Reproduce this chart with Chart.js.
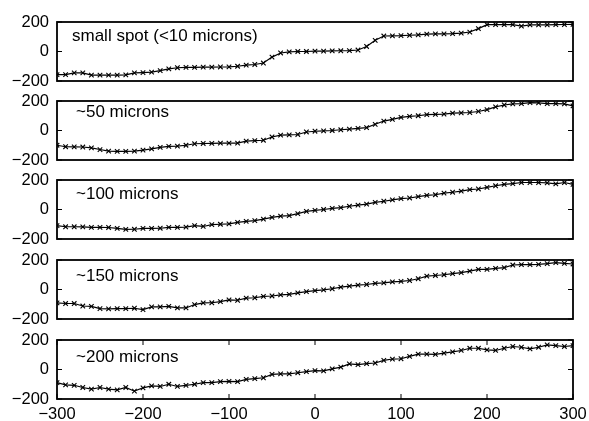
<!DOCTYPE html>
<html lang="en">
<head>
  <meta charset="UTF-8">
  <title>Spot size profiles</title>
  <script src="https://cdn.jsdelivr.net/npm/chart.js"></script>
  <style>
    body { margin: 0; background: #fff; }
    #wrap { position: relative; width: 589px; height: 421px; }
    #wrap canvas { position: absolute; left: 0; }
  </style>
</head>
<body>
<div id="wrap"></div>

<script>
  // posiciones x (comunes a los cinco paneles)
  const posX = [-300, -290, -280, -270, -260, -250, -240, -230, -220, -210,
                -200, -190, -180, -170, -160, -150, -140, -130, -120, -110,
                -100, -90, -80, -70, -60, -50, -40, -30, -20, -10,
                0, 10, 20, 30, 40, 50, 60, 70, 80, 90,
                100, 110, 120, 130, 140, 150, 160, 170, 180, 190,
                200, 210, 220, 230, 240, 250, 260, 270, 280, 290, 300];

  const panelLabels = ["small spot (<10 microns)", "~50 microns", "~100 microns", "~150 microns", "~200 microns"];

  const spotSmall = [-157, -157, -145, -145, -160, -160, -160, -160, -158, -145,
                     -143, -140, -130, -118, -110, -108, -107, -106, -106, -105,
                     -104, -100, -92, -88, -78, -38, -10, -3, 0, 0,
                     2, 3, 4, 5, 6, 10, 34, 76, 105, 106,
                     107, 110, 113, 118, 120, 120, 121, 124, 132, 155,
                     182, 182, 182, 182, 172, 180, 181, 181, 182, 183, 184];

  const spot50 = [-100, -110, -111, -112, -118, -129, -140, -141, -141, -140,
                  -133, -124, -115, -108, -106, -100, -90, -88, -87, -86,
                  -86, -85, -72, -68, -66, -44, -32, -29, -27, -10,
                  -5, -3, 0, 5, 9, 15, 20, 42, 64, 75,
                  89, 96, 100, 107, 109, 111, 118, 120, 122, 129,
                  142, 160, 173, 180, 182, 189, 187, 182, 182, 180, 167];

  const spot100 = [-109, -117, -117, -118, -121, -121, -122, -128, -135, -134,
                   -128, -128, -127, -121, -121, -120, -109, -115, -102, -100,
                   -98, -87, -80, -76, -65, -54, -45, -42, -28, -13,
                   -6, 0, 7, 13, 22, 30, 37, 48, 56, 65,
                   74, 78, 87, 96, 100, 111, 117, 124, 135, 139,
                   150, 161, 170, 176, 183, 183, 183, 180, 174, 183, 170];

  const spot150 = [-91, -95, -95, -112, -114, -130, -132, -130, -129, -127,
                   -136, -118, -118, -114, -125, -125, -102, -91, -90, -82,
                   -70, -73, -58, -56, -46, -44, -36, -33, -23, -15,
                   -8, -3, 5, 16, 23, 30, 34, 41, 45, 52,
                   55, 61, 73, 91, 95, 100, 107, 114, 125, 136,
                   136, 143, 148, 166, 168, 168, 170, 175, 182, 177, 173];

  const spot200 = [-89, -104, -107, -122, -133, -122, -133, -138, -122, -147,
                   -124, -111, -115, -100, -115, -107, -100, -89, -89, -82,
                   -80, -82, -67, -62, -56, -33, -29, -29, -22, -15,
                   -8, -9, 4, 16, 38, 33, 40, 44, 62, 71,
                   73, 89, 104, 104, 102, 111, 120, 129, 144, 144,
                   133, 129, 144, 156, 151, 140, 151, 167, 162, 156, 162];

  const yTicks = [-200, 0, 200];
  const xTicks = [-300, -200, -100, 0, 100, 200, 300];

  const series = [spotSmall, spot50, spot100, spot150, spot200];

  // geometría de los paneles
  const panelTops = [22, 101, 180, 260, 340];
  const panelH = 58.5;
  const labelDx = [15, 19, 19, 19, 19];
  const labelDy = [19, 16, 19, 21, 22];
  const FONT = "'Liberation Sans', Arial, Helvetica, sans-serif";

  function fmt(v) {
    return v < 0 ? "\u2212" + Math.abs(v) : String(v);
  }

  // marco, marcas hacia dentro y texto del panel
  const marcoPlugin = {
    id: "marco",
    afterDatasetsDraw(chart, args, opts) {
      const ctx = chart.ctx;
      const a = chart.chartArea;
      const xs = chart.scales.x, ys = chart.scales.y;
      ctx.save();
      ctx.strokeStyle = "#000";
      ctx.lineWidth = 1;
      ctx.beginPath();
      yTicks.forEach(v => {
        const py = ys.getPixelForValue(v);
        ctx.moveTo(a.left, py); ctx.lineTo(a.left + 5, py);
        ctx.moveTo(a.right, py); ctx.lineTo(a.right - 5, py);
      });
      if (opts.xTicks) {
        xTicks.forEach(v => {
          const px = xs.getPixelForValue(v);
          ctx.moveTo(px, a.bottom); ctx.lineTo(px, a.bottom - 5);
          ctx.moveTo(px, a.top); ctx.lineTo(px, a.top + 5);
        });
      }
      ctx.stroke();
      ctx.lineWidth = 1.8;
      ctx.strokeRect(a.left, a.top, a.right - a.left, a.bottom - a.top);
      ctx.fillStyle = "#000";
      ctx.font = "17px " + FONT;
      ctx.textBaseline = "alphabetic";
      ctx.fillText(opts.text, a.left + opts.dx, a.top + opts.dy);
      ctx.restore();
    }
  };

  const wrap = document.getElementById("wrap");

  series.forEach((vals, i) => {
    const last = i === series.length - 1;
    const cv = document.createElement("canvas");
    cv.width = 589;
    cv.height = Math.round(10 + panelH + (last ? 22 : 10));
    cv.style.top = (panelTops[i] - 10) + "px";
    wrap.appendChild(cv);

    new Chart(cv, {
      type: "line",
      data: {
        datasets: [{
          data: posX.map((x, k) => ({ x: x, y: vals[k] })),
          borderColor: "#000",
          borderWidth: 1.2,
          pointStyle: "crossRot",
          pointRadius: 3.2,
          pointBorderColor: "#000",
          pointBorderWidth: 1.1,
          fill: false,
          tension: 0
        }]
      },
      options: {
        responsive: false,
        animation: false,
        layout: { padding: { left: 0, right: 16, top: 10, bottom: last ? 0 : 10 } },
        plugins: {
          legend: { display: false },
          tooltip: { enabled: false },
          marco: { text: panelLabels[i], dx: labelDx[i], dy: labelDy[i], xTicks: last }
        },
        scales: {
          x: {
            type: "linear",
            min: -300,
            max: 300,
            display: last,
            afterBuildTicks: s => { s.ticks = xTicks.map(v => ({ value: v })); },
            afterFit: s => {
              s.height = last ? 22 : 0;
              s.paddingLeft = 0;
              s.paddingRight = 0;
            },
            grid: { display: false, drawTicks: false },
            border: { display: false },
            ticks: {
              padding: 6,
              autoSkip: false,
              maxRotation: 0,
              color: "#000",
              font: { family: FONT, size: 16.5 },
              callback: v => fmt(v)
            }
          },
          y: {
            min: -200,
            max: 200,
            afterBuildTicks: s => { s.ticks = yTicks.map(v => ({ value: v })); },
            afterFit: s => {
              s.width = 57;
              s.paddingTop = 0;
              s.paddingBottom = 0;
            },
            grid: { display: false, drawTicks: false },
            border: { display: false },
            ticks: {
              padding: 8,
              autoSkip: false,
              color: "#000",
              font: { family: FONT, size: 16.5 },
              callback: v => fmt(v)
            }
          }
        }
      },
      plugins: [marcoPlugin]
    });
  });
</script>
</body>
</html>
